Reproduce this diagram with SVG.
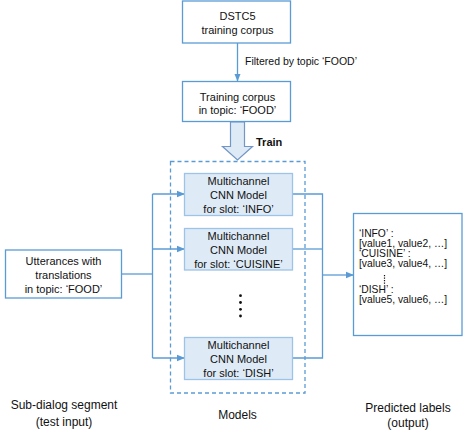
<svg xmlns="http://www.w3.org/2000/svg" width="463" height="440" viewBox="0 0 463 440">
<defs>
<style>
text{font-family:"Liberation Sans",Arial,sans-serif;fill:#111;}
.box{fill:#fff;stroke:#5B9BD5;stroke-width:1.3;}
.model{fill:#DEEBF7;stroke:#9DC3E6;stroke-width:1.3;}
.c{text-anchor:middle;font-size:11px;}
.o{font-size:10.3px;}
.lab{text-anchor:middle;font-size:12px;}
.ln{fill:none;stroke:#5B9BD5;stroke-width:1.3;}
</style>
<marker id="ah" viewBox="0 0 8 8" refX="7.5" refY="4" markerWidth="8" markerHeight="8" markerUnits="userSpaceOnUse" orient="auto">
<path d="M0,0.8 L8,4 L0,7.2 Z" fill="#5B9BD5"/>
</marker>
</defs>

<g id="connectors">
<line class="ln" x1="237.5" y1="43" x2="237.5" y2="81" marker-end="url(#ah)"/>
<polygon points="230.5,122 244.5,122 244.5,146.5 252.5,146.5 237.5,160 222.5,146.5 230.5,146.5" fill="#DEEBF7" stroke="#7396C6" stroke-width="1.2"/>
<polyline class="ln" points="121.5,274 152.5,274"/>
<polyline class="ln" points="152.5,194 152.5,358"/>
<line class="ln" x1="152.5" y1="194" x2="184.5" y2="194" marker-end="url(#ah)"/>
<line class="ln" x1="152.5" y1="249" x2="184.5" y2="249" marker-end="url(#ah)"/>
<line class="ln" x1="152.5" y1="358" x2="184.5" y2="358" marker-end="url(#ah)"/>
<polyline class="ln" points="292.5,194 322.5,194 322.5,358 292.5,358"/>
<line class="ln" x1="292.5" y1="249" x2="322.5" y2="249"/>
<line class="ln" x1="322.5" y1="275" x2="353.5" y2="275" marker-end="url(#ah)"/>
</g>

<text x="245" y="64.5" style="font-size:10.5px">Filtered by topic ‘FOOD’</text>
<text x="256" y="145.5" style="font-size:11px;font-weight:bold">Train</text>

<g id="dstc5">
<rect class="box" x="182.5" y="1" width="108" height="42"/>
<text class="c" x="237.5" y="19.8">DSTC5</text>
<text class="c" x="237.5" y="34">training corpus</text>
</g>

<g id="food-corpus">
<rect class="box" x="182.5" y="81.5" width="108" height="40"/>
<text class="c" x="237.5" y="100.5">Training corpus</text>
<text class="c" x="237.5" y="114">in topic: ‘FOOD’</text>
</g>

<g id="models">
<rect x="170.5" y="161.5" width="134.5" height="231.5" fill="none" stroke="#5B9BD5" stroke-width="1.3" stroke-dasharray="4,3"/>
<text class="lab" x="237.5" y="419.3">Models</text>
</g>

<g id="model-info">
<rect class="model" x="184.5" y="173.5" width="108" height="42"/>
<text class="c" x="238.5" y="185">Multichannel</text>
<text class="c" x="238.5" y="199">CNN Model</text>
<text class="c" x="238.5" y="213">for slot: ‘INFO’</text>
</g>

<g id="model-cuisine">
<rect class="model" x="184.5" y="228.5" width="108" height="41.5"/>
<text class="c" x="238.5" y="240">Multichannel</text>
<text class="c" x="238.5" y="254">CNN Model</text>
<text class="c" x="238.5" y="268">for slot: ‘CUISINE’</text>
</g>

<g id="ellipsis">
<circle cx="240.5" cy="295.7" r="1.4" fill="#111"/>
<circle cx="240.5" cy="302.5" r="1.4" fill="#111"/>
<circle cx="240.5" cy="309.3" r="1.4" fill="#111"/>
<circle cx="240.5" cy="316" r="1.4" fill="#111"/>
</g>

<g id="model-dish">
<rect class="model" x="184.5" y="337.5" width="108" height="42"/>
<text class="c" x="238.5" y="349">Multichannel</text>
<text class="c" x="238.5" y="363">CNN Model</text>
<text class="c" x="238.5" y="377">for slot: ‘DISH’</text>
</g>

<g id="utterances">
<rect class="box" x="5.5" y="250" width="116" height="48"/>
<text class="c" x="63.5" y="265">Utterances with</text>
<text class="c" x="63.5" y="278.5">translations</text>
<text class="c" x="63.5" y="292.5">in topic: ‘FOOD’</text>
</g>

<g id="output">
<rect class="box" x="353.5" y="213.5" width="108.5" height="122"/>
<text class="o" x="359" y="237">‘INFO’ :</text>
<text class="o" x="359" y="247">[value1, value2, …]</text>
<text class="o" x="359" y="256.5">‘CUISINE’ :</text>
<text class="o" x="359" y="267">[value3, value4, …]</text>
<line x1="384.5" y1="275" x2="384.5" y2="285" stroke="#111" stroke-width="1.2" stroke-dasharray="1.2,1.3"/>
<text class="o" x="359" y="292.5">‘DISH’ :</text>
<text class="o" x="359" y="303">[value5, value6, …]</text>
</g>

<text class="lab" x="64" y="409.3">Sub-dialog segment</text>
<text class="lab" x="64" y="426">(test input)</text>
<text class="lab" x="408" y="412">Predicted labels</text>
<text class="lab" x="408" y="427">(output)</text>
</svg>
